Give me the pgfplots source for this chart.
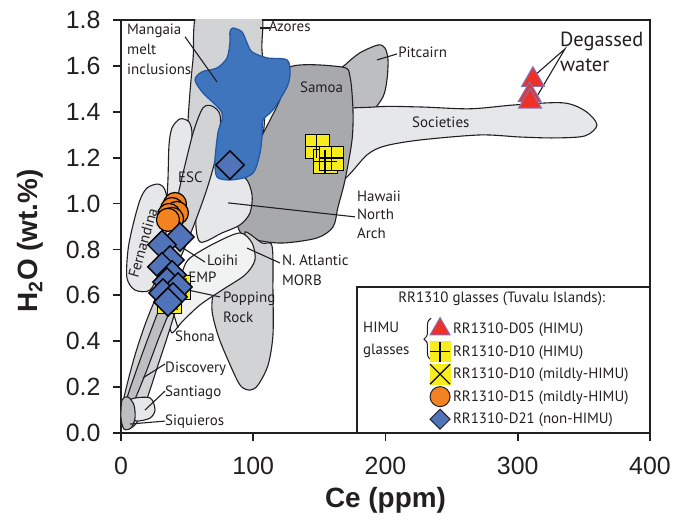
\documentclass[border=0pt]{standalone}
\usepackage{pgfplots}
\pgfplotsset{compat=1.18}
\usepackage{fontspec}
\setmainfont{PT Sans}
\newfontfamily\arial{Liberation Sans}
\usetikzlibrary{decorations.pathreplacing}

\definecolor{txt}{HTML}{231F20}
\definecolor{gA}{HTML}{D1D3D4}
\definecolor{gB}{HTML}{E6E7E8}
\definecolor{gC}{HTML}{BCBEC0}
\definecolor{gD}{HTML}{A7A9AC}
\definecolor{gE}{HTML}{F1F2F2}
\definecolor{mang}{HTML}{3E75BC}
\definecolor{mangedge}{HTML}{245AA5}
\definecolor{tri}{HTML}{EE3124}
\definecolor{triedge}{HTML}{8A6BB0}
\definecolor{yel}{HTML}{F7EC1C}
\definecolor{orng}{HTML}{F58220}
\definecolor{dia}{HTML}{5173B9}

\pgfplotsset{
  field/.style={forget plot, smooth cycle, tension=0.5, draw=txt, line width=1.1bp, fill=#1},
  lead/.style={forget plot, draw=txt, line width=1.1bp, no marks},
}
\tikzset{lbl/.style={font=\fontsize{15}{18}\selectfont, text=txt, inner sep=0pt}}

\begin{document}
\begin{tikzpicture}
\path[use as bounding box] (-121bp,-87bp) rectangle (555bp,433bp);
\begin{axis}[
  at={(0,0)}, anchor=south west,
  scale only axis, width=529bp, height=413bp,
  xmin=0, xmax=400, ymin=0, ymax=1.8,
  xtick={0,100,200,300,400},
  ytick={0,0.2,0.4,0.6,0.8,1.0,1.2,1.4,1.6,1.8},
  /pgf/number format/assume math mode=true,
  yticklabel style={/pgf/number format/.cd, fixed, fixed zerofill, precision=1, /tikz/.cd, xshift=-9bp},
  xticklabel style={yshift=-13bp},
  tick label style={font=\arial\fontsize{25}{28}\selectfont, text=txt},
  xtick pos=left, ytick pos=left, tick align=outside,
  major tick length=8bp,
  tick style={line width=1.8bp, txt},
  axis line style={line width=1.8bp, txt},
  xlabel={\bfseries Ce (ppm)},
  ylabel={\bfseries H\textsubscript{2}O (wt.\%)},
  label style={font=\arial\fontsize{28}{32}\selectfont, text=txt},
  xlabel style={at={(axis description cs:0.5,-0.162)}, anchor=center},
  ylabel style={at={(axis description cs:-0.172,0.465)}, anchor=center},
  legend style={at={(0.582,0.281)}, anchor=north west, draw=none, fill=none,
    inner sep=0pt, row sep=0pt, font=\fontsize{15}{18}\selectfont, text=txt},
  legend cell align=left,
]
% ---------------- fields ----------------
% Azores
\addplot[field=gA] coordinates {(59.7,1.85) (103.6,1.85) (106.6,1.67) (108.9,1.452) (106.6,1.277) (93.8,1.103) (71.1,1.016) (48.4,1.016) (50.7,1.364) (54.4,1.626)};
% Pitcairn
\addplot[field=gC] coordinates {(161.8,1.552) (169.4,1.604) (180.7,1.657) (194.3,1.691) (199.6,1.678) (201.9,1.626) (201.1,1.539) (198.1,1.465) (188.3,1.386) (175.4,1.290) (165.6,1.364)};
% Societies
\addplot[field=gB] coordinates {(158.0,1.386) (192.1,1.421) (226.1,1.421) (263.9,1.413) (297.9,1.430) (334.2,1.439) (350.9,1.404) (359.9,1.343) (350.9,1.295) (328.2,1.286) (301.7,1.290) (271.5,1.299) (226.1,1.277) (199.6,1.251) (186.0,1.212) (167.9,1.103) (158.0,1.146)};
% Samoa
\addplot[field=gD] coordinates {(127.8,1.595) (167.1,1.595) (173.2,1.552) (175.4,1.408) (174.7,1.277) (169.4,1.103) (164.1,0.985) (160.3,0.898) (148.2,0.850) (122.5,0.828) (102.8,0.841) (90.0,0.876) (86.2,1.016) (101.3,1.234) (120.2,1.452)};
% N. Atlantic MORB
\addplot[field=gA] coordinates {(93.8,0.876) (106.6,0.828) (114.2,0.815) (114.9,0.623) (114.9,0.427) (111.2,0.296) (103.6,0.209) (97.5,0.187) (90.0,0.209) (80.9,0.318) (73.3,0.427) (68.8,0.536) (71.1,0.623) (86.2,0.711) (97.5,0.776)};
% Hawaii North Arch
\addplot[field=gB] coordinates {(68.8,1.234) (78.6,1.125) (93.8,1.112) (99.1,1.038) (97.5,0.959) (90.0,0.907) (76.4,0.872) (59.7,0.833) (56.7,0.950) (63.5,1.103)};
% Popping Rock
\addplot[field=gE] coordinates {(52.2,0.763) (71.1,0.828) (90.0,0.872) (99.1,0.828) (101.3,0.754) (93.8,0.689) (76.4,0.623) (59.7,0.558) (46.1,0.484) (38.6,0.436) (37.1,0.493) (43.1,0.623) (46.9,0.711)};
% Loihi (light)
\addplot[field=gB] coordinates {(38.6,1.330) (44.6,1.369) (51.4,1.356) (53.7,1.299) (50.7,1.168) (44.6,1.016) (40.8,0.863) (38.6,0.776) (34.0,0.776) (34.0,0.929) (35.5,1.103) (36.3,1.255)};
% ESC
\addplot[field=gA] coordinates {(62.0,1.417) (68.8,1.425) (74.9,1.386) (74.1,1.277) (70.3,1.168) (63.5,1.038) (53.7,0.885) (44.6,0.763) (38.6,0.745) (37.1,0.820) (41.6,0.994) (48.4,1.168) (55.2,1.321)};
% Mangaia melt inclusions
\addplot[forget plot, smooth cycle, tension=0.5, draw=mangedge, line width=1.3bp, fill=mang] coordinates {(84.7,1.765) (91.5,1.748) (95.3,1.700) (99.1,1.661) (110.4,1.635) (125.5,1.626) (127.8,1.569) (125.5,1.508) (114.9,1.408) (107.4,1.364) (106.6,1.290) (105.1,1.221) (101.3,1.146) (95.3,1.116) (82.4,1.103) (72.6,1.116) (71.1,1.190) (73.3,1.308) (76.4,1.395) (62.0,1.482) (56.0,1.539) (61.2,1.574) (72.6,1.591) (80.2,1.635) (82.4,1.704) (82.4,1.748)};
% Fernandina
\addplot[field=gB] coordinates {(14.4,1.016) (19.7,1.068) (28.0,1.085) (33.3,1.059) (35.5,0.972) (33.3,0.841) (29.5,0.711) (21.9,0.623) (10.6,0.623) (4.5,0.676) (5.3,0.798) (9.1,0.907)};
% Discovery
\addplot[field=gA] coordinates {(1.5,0.122) (4.5,0.209) (10.6,0.340) (18.1,0.471) (25.7,0.580) (33.3,0.667) (40.8,0.711) (44.6,0.645) (42.3,0.558) (35.5,0.427) (28.0,0.296) (21.9,0.187) (16.6,0.100) (10.6,0.035) (3.0,0.022)};
% Shona
\addplot[field=gC] coordinates {(3.0,0.122) (14.4,0.318) (25.7,0.493) (33.3,0.602) (38.6,0.645) (41.6,0.615) (37.1,0.536) (28.0,0.405) (18.1,0.253) (8.3,0.122)};
% Santiago
\addplot[field=gB] coordinates {(6.8,0.144) (21.9,0.153) (25.7,0.100) (21.9,0.065) (12.1,0.052) (6.8,0.070)};
% Siquieros
\addplot[field=gC] coordinates {(0.8,0.144) (5.3,0.157) (9.8,0.122) (10.6,0.065) (7.6,0.022) (2.3,0.017) (0.0,0.065)};

% ---------------- leaders ----------------
\addplot[lead] coordinates {(105.1,1.765) (112.7,1.765)};
\addplot[lead] coordinates {(193.6,1.626) (208.7,1.652)};
\addplot[lead] coordinates {(48.4,1.727) (72.6,1.530)};
\addplot[lead] coordinates {(80.9,1.003) (176.9,0.942)};
\addplot[lead] coordinates {(95.3,0.806) (120.2,0.741)};
\addplot[lead] coordinates {(46.9,0.806) (63.5,0.745)};
\addplot[lead] coordinates {(50.7,0.623) (74.9,0.593)};
\addplot[lead] coordinates {(43.1,0.458) (39.3,0.527)};
\addplot[lead] coordinates {(16.6,0.240) (33.3,0.301)};
\addplot[lead] coordinates {(18.1,0.100) (33.3,0.183)};
\addplot[lead] coordinates {(6.8,0.039) (33.3,0.052)};
\addplot[lead] coordinates {(311.5,1.552) (335.7,1.674) (313.0,1.452)};

% ---------------- labels ----------------
\node[lbl, anchor=base west] at (axis cs:4.5,1.735) {Mangaia};
\node[lbl, anchor=base west] at (axis cs:4.5,1.648) {melt};
\node[lbl, anchor=base west] at (axis cs:4.5,1.561) {inclusions};
\node[lbl, anchor=base west] at (axis cs:111.6,1.748) {Azores};
\node[lbl, anchor=base west] at (axis cs:209.5,1.635) {Pitcairn};
\node[lbl, anchor=base west] at (axis cs:135.3,1.482) {Samoa};
\node[lbl, anchor=base west] at (axis cs:220.0,1.330) {Societies};
\node[lbl, anchor=base west] at (axis cs:43.1,1.090) {ESC};
\node[lbl, anchor=base west] at (axis cs:178.4,1.011) {Hawaii};
\node[lbl, anchor=base west] at (axis cs:178.4,0.929) {North};
\node[lbl, anchor=base west] at (axis cs:178.4,0.846) {Arch};
\node[lbl, anchor=base west] at (axis cs:121.7,0.732) {N. Atlantic};
\node[lbl, anchor=base west] at (axis cs:121.7,0.645) {MORB};
\node[lbl, anchor=base west] at (axis cs:65.0,0.732) {Loihi};
\node[lbl, anchor=base west] at (axis cs:50.7,0.654) {EMP};
\node[lbl, anchor=base west] at (axis cs:77.1,0.567) {Popping};
\node[lbl, anchor=base west] at (axis cs:77.1,0.480) {Rock};
\node[lbl, anchor=base west] at (axis cs:40.8,0.397) {Shona};
\node[lbl, anchor=base west] at (axis cs:33.3,0.262) {Discovery};
\node[lbl, anchor=base west] at (axis cs:33.3,0.157) {Santiago};
\node[lbl, anchor=base west] at (axis cs:33.3,0.031) {Siquieros};
\node[lbl, rotate=74] at (axis cs:16.6,0.828) {Fernandina};
\node[lbl, font=\fontsize{20.5}{24}\selectfont, anchor=base west] at (axis cs:331.9,1.683) {Degassed};
\node[lbl, font=\fontsize{20.5}{24}\selectfont, anchor=base west] at (axis cs:331.9,1.574) {water};

% ---------------- legend frame ----------------
\draw[txt, line width=1.3bp, fill=white] (axis cs:178.5,0.636) rectangle (axis cs:400,0);
\node[lbl, anchor=base west] at (axis cs:209.5,0.567) {RR1310 glasses (Tuvalu Islands):};
\node[lbl, anchor=base west] at (axis cs:183.0,0.436) {HIMU};
\node[lbl, anchor=base west] at (axis cs:183.0,0.340) {glasses};
\draw[txt, line width=1bp, decorate, decoration={brace, amplitude=7bp}] (axis cs:234.4,0.318) -- (axis cs:234.4,0.501);

% ---------------- samples ----------------
\addplot[only marks, mark=triangle*, mark size=13bp, mark options={fill=tri, draw=triedge, line width=1.2bp},
  legend image code/.code={\path[draw=none, fill=none] (-11bp,-11.25bp) rectangle (11bp,11.25bp);
    \filldraw[fill=tri, draw=triedge, line width=1bp] (90:11.5bp) -- (210:11.5bp) -- (330:11.5bp) -- cycle;}]
  coordinates {(311.5,1.539) (309.0,1.473) (309.3,1.445)};
\addlegendentry{RR1310-D05 (HIMU)}

\addplot[forget plot, only marks, mark=square*, mark size=12bp, mark options={fill=yel, draw=none}]
  coordinates {(148.0,1.249) (154.3,1.183) (159.3,1.198)};
\addplot[only marks, mark=+, mark size=12bp, mark options={draw=black, line width=1.5bp},
  legend image code/.code={\path[draw=none, fill=none] (-11bp,-11.25bp) rectangle (11bp,11.25bp);
    \fill[yel] (-10bp,-10bp) rectangle (10bp,10bp);
    \draw[black, line width=1.3bp] (-10bp,0bp) -- (10bp,0bp) (0bp,-10bp) -- (0bp,10bp);}]
  coordinates {(148.0,1.249) (154.3,1.183) (159.3,1.198)};
\addlegendentry{RR1310-D10 (HIMU)}

\addplot[forget plot, only marks, mark=square*, mark size=12bp, mark options={fill=yel, draw=none}]
  coordinates {(43.1,0.636) (36.3,0.575)};
\addplot[only marks, mark=x, mark size=12bp, mark options={draw=black, line width=1.3bp},
  legend image code/.code={\path[draw=none, fill=none] (-11bp,-11.25bp) rectangle (11bp,11.25bp);
    \fill[yel] (-10bp,-10bp) rectangle (10bp,10bp);
    \draw[black, line width=1.1bp] (-10bp,-10bp) -- (10bp,10bp) (-10bp,10bp) -- (10bp,-10bp);}]
  coordinates {(43.1,0.636) (36.3,0.575)};
\addlegendentry{RR1310-D10 (mildly-HIMU)}

\addplot[only marks, mark=*, mark size=11.5bp, mark options={fill=orng, draw=black, line width=1.2bp},
  legend image code/.code={\path[draw=none, fill=none] (-11bp,-11.25bp) rectangle (11bp,11.25bp);
    \filldraw[fill=orng, draw=txt, line width=1bp] (0bp,0bp) circle (10bp);}]
  coordinates {(40.8,0.998) (38.6,0.976) (42.3,0.959) (36.3,0.950) (38.6,0.933) (35.5,0.929)};
\addlegendentry{RR1310-D15 (mildly-HIMU)}

\addplot[only marks, mark=square*, mark size=10bp, mark options={rotate=45, fill=dia, draw=black, line width=1.4bp},
  legend image code/.code={\path[draw=none, fill=none] (-11bp,-11.25bp) rectangle (11bp,11.25bp);
    \filldraw[fill=dia, draw=txt, line width=1bp] (0bp,10bp) -- (10bp,0bp) -- (0bp,-10bp) -- (-10bp,0bp) -- cycle;}]
  coordinates {(82.4,1.168) (44.6,0.854) (31.0,0.820) (37.1,0.754) (31.0,0.724) (38.6,0.689) (34.8,0.658) (43.1,0.636) (31.8,0.610) (39.3,0.593) (35.5,0.571)};
\addlegendentry{RR1310-D21 (non-HIMU)}
\end{axis}
\end{tikzpicture}
\end{document}
